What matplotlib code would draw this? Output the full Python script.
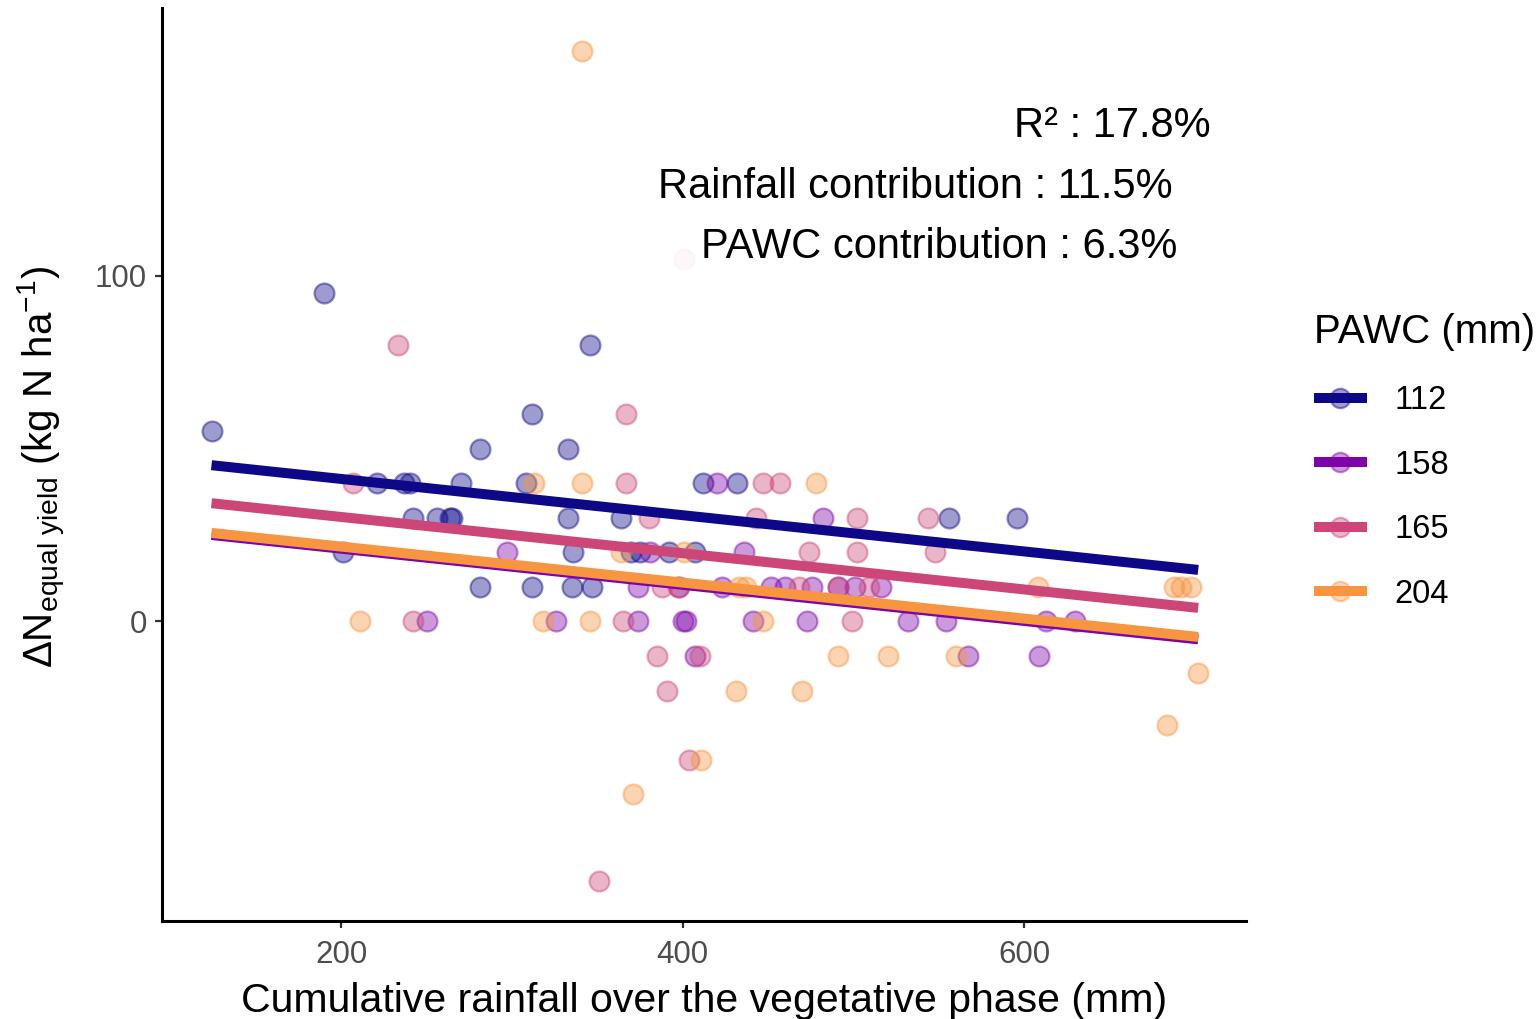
import matplotlib

matplotlib.use("Agg")
import matplotlib.pyplot as plt
from matplotlib.lines import Line2D

plt.rcParams["font.family"] = ["Liberation Sans", "DejaVu Sans"]
plt.rcParams["mathtext.fontset"] = "custom"
plt.rcParams["mathtext.rm"] = "Liberation Sans"
plt.rcParams["mathtext.it"] = "Liberation Sans:italic"
plt.rcParams["mathtext.bf"] = "Liberation Sans:bold"

PAWC_LEVELS = ["112", "158", "165", "204"]
COLOURS = ["#0D0887", "#7E03A8", "#CC4778", "#F89540"]

# cumulative rainfall (mm) and delta N at equal yield (kg N/ha), per soil PAWC
RAIN_112 = [124, 190, 346, 312, 281, 333, 221, 237, 240, 270, 308, 412, 432,
            242, 256, 264, 265, 333, 364, 556, 596, 201, 336, 370, 375, 392,
            407, 281, 312, 335, 347]
DN_112 = [55, 95, 80, 60, 50, 50, 40, 40, 40, 40, 40, 40, 40,
          30, 30, 30, 30, 30, 30, 30, 30, 20, 20, 20, 20, 20,
          20, 10, 10, 10, 10]

RAIN_158 = [420, 482, 297, 381, 436, 374, 398, 423, 452, 460, 476, 491, 501,
            516, 250, 326, 374, 400, 402, 441, 473, 532, 554, 613, 630, 407,
            567, 609]
DN_158 = [40, 30, 20, 20, 20, 10, 10, 10, 10, 10, 10, 10, 10,
          10, 0, 0, 0, 0, 0, 0, 0, 0, 0, 0, 0, -10,
          -10, -10]

RAIN_165 = [233, 367, 207, 367, 447, 457, 380, 443, 502, 544, 474, 502, 548,
            388, 397, 468, 491, 509, 242, 365, 499, 385, 410, 391, 404, 351,
            401]
DN_165 = [80, 60, 40, 40, 40, 40, 30, 30, 30, 30, 20, 20, 20,
          10, 10, 10, 10, 10, 0, 0, 0, -10, -10, -20, -40, -75,
          105]

RAIN_204 = [341, 313, 341, 478, 364, 401, 433, 437, 608, 688, 692, 698, 211,
            318, 346, 447, 491, 520, 560, 431, 470, 702, 684, 411, 371]
DN_204 = [165, 40, 40, 40, 20, 20, 10, 10, 10, 10, 10, 10, 0,
          0, 0, 0, -10, -10, -10, -20, -20, -15, -30, -40, -50]

# fitted lines (rainfall + PAWC model), evaluated at the ends of the rainfall range
FIT_X = [124, 702]
FIT_112 = [45.2, 14.9]
FIT_158 = [25.0, -5.2]
FIT_165 = [34.2, 3.9]
FIT_204 = [25.6, -4.5]

STATS = ["R² : 17.8%", "Rainfall contribution : 11.5%", "PAWC contribution : 6.3%"]

rain = [RAIN_112, RAIN_158, RAIN_165, RAIN_204]
dn = [DN_112, DN_158, DN_165, DN_204]
fits = [FIT_112, FIT_158, FIT_165, FIT_204]

fig = plt.figure(figsize=(15.4, 10.19), dpi=100)
ax = fig.add_axes([162 / 1540, 98 / 1019, 1084 / 1540, 913 / 1019])

for x, y, c in zip(rain, dn, COLOURS):
    ax.scatter(x, y, s=205, facecolor=matplotlib.colors.to_rgba(c, 0.4),
               edgecolor=matplotlib.colors.to_rgba(c, 0.45), linewidth=1.6,
               zorder=2)
for f, c in zip(fits, COLOURS):
    ax.plot(FIT_X, f, color=c, linewidth=7.2, solid_capstyle="butt", zorder=3)

# stats labels sit on white boxes, as in the original ggplot labels
box = dict(boxstyle="square,pad=0.7", facecolor="white", edgecolor="none", alpha=0.9)
ax.text(594, 143.4, STATS[0], fontsize=30, ha="left", va="center", bbox=box, zorder=4)
ax.text(385.5, 125.7, STATS[1], fontsize=30, ha="left", va="center", bbox=box, zorder=4)
ax.text(411, 108.4, STATS[2], fontsize=30, ha="left", va="center", bbox=box, zorder=4)

ax.set_xlim(95, 730)
ax.set_ylim(-86.7, 177.5)
ax.set_xticks([200, 400, 600])
ax.set_yticks([0, 100])

for side in ("top", "right"):
    ax.spines[side].set_visible(False)
for side in ("left", "bottom"):
    ax.spines[side].set_linewidth(2.2)
    ax.spines[side].set_color("black")
ax.tick_params(length=5, width=1.6, color="#333333", labelcolor="#4D4D4D",
               labelsize=22.5, pad=6)
ax.tick_params(axis="x", pad=8.5)

ax.set_xlabel("Cumulative rainfall over the vegetative phase (mm)", fontsize=29.5, labelpad=8.5)
fig.text(42 / 1540, 1 - 467 / 1019,
         r"$\Delta\mathrm{N}_{\mathrm{equal\ yield}}$ (kg N ha$^{-1}$)",
         rotation=90, ha="center", va="center", fontsize=29)

handles = []
for c in COLOURS:
    pt = Line2D([], [], linestyle="none", marker="o", markersize=14,
                markerfacecolor=matplotlib.colors.to_rgba(c, 0.4),
                markeredgecolor=matplotlib.colors.to_rgba(c, 0.45), markeredgewidth=1.6)
    ln = Line2D([], [], color=c, linewidth=7.2, solid_capstyle="butt")
    handles.append((pt, ln))

leg = fig.legend(handles, PAWC_LEVELS, title="PAWC (mm)", loc="upper left",
                 bbox_to_anchor=(1285 / 1540, 1 - 284 / 1019), frameon=False,
                 fontsize=23.5, title_fontsize=29, handlelength=1.6,
                 handletextpad=0.85, labelspacing=1.03, alignment="left")

fig.savefig("out.png", dpi=100)
